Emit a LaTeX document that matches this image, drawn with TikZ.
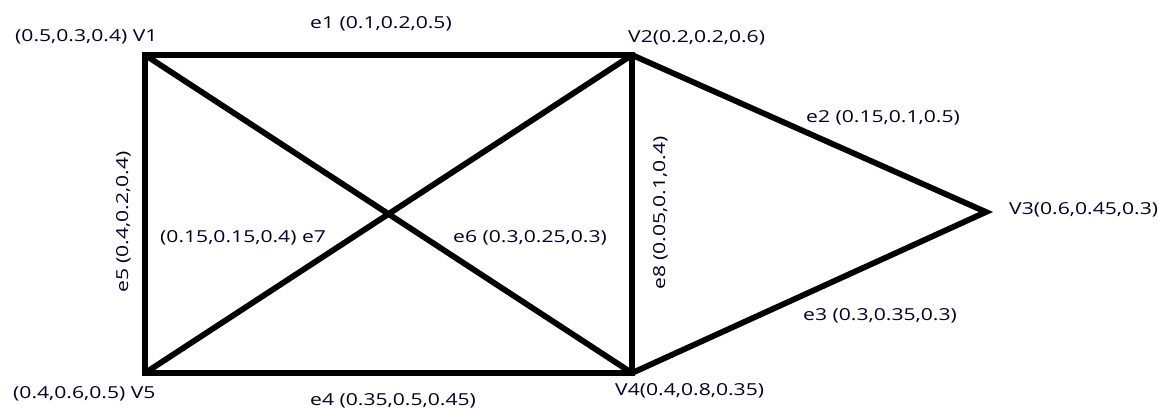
\documentclass[tikz,border=0pt]{standalone}
\usepackage{fontspec}
\setmainfont{Open Sans}
\newfontfamily\lblfont[FakeStretch=1.28]{Open Sans}
\usepackage{tikz}
\usetikzlibrary{positioning}
\colorlet{edgec}{black}
\colorlet{labelc}{black!85!blue}

\begin{document}
\begin{tikzpicture}[x=1pt,y=1pt,
  edgeline/.style={draw=edgec,line width=5.8pt,line join=miter},
  lbl/.style={text=labelc,font=\lblfont\fontsize{16.5}{18}\selectfont,inner sep=0pt}]
\useasboundingbox (0,0) rectangle (1158,407);

\coordinate (v1) at (145,352);
\coordinate (v2) at (632,352);
\coordinate (v3) at (986,195);
\coordinate (v4) at (632,34);
\coordinate (v5) at (145,34);

\draw[edgeline] (v1) -- (v2) -- (v4) -- (v5) -- cycle;
\draw[edgeline] (v2) -- (v3) -- (v4);
\draw[edgeline] (v1) -- (v4);
\draw[edgeline] (v5) -- (v2);

\node[lbl,anchor=base west] (l1) at (15,365) {(0.5,0.3,0.4) V1};
\node[lbl,anchor=base west] (l2) at (628,364) {V2(0.2,0.2,0.6)};
\node[lbl,anchor=base west] (l3) at (1009,192) {V3(0.6,0.45,0.3)};
\node[lbl,anchor=base west] (l4) at (615,12) {V4(0.4,0.8,0.35)};
\node[lbl,anchor=base west] (l5) at (13,9) {(0.4,0.6,0.5) V5};

\node[lbl,anchor=base west] (e1) at (310,378) {e1 (0.1,0.2,0.5)};
\node[lbl,anchor=base west] (e2) at (806,284) {e2 (0.15,0.1,0.5)};
\node[lbl,anchor=base west] (e3) at (803,87) {e3 (0.3,0.35,0.3)};
\node[lbl,anchor=base west] (e4) at (310,2) {e4 (0.35,0.5,0.45)};
\node[lbl,anchor=base,rotate=90] (e5) at (128,185) {e5 (0.4,0.2,0.4)};
\node[lbl,anchor=base west] (e6) at (453,164) {e6 (0.3,0.25,0.3)};
\node[lbl,anchor=base west] (e7) at (160,164) {(0.15,0.15,0.4) e7};
\node[lbl,anchor=base,rotate=90] (e8) at (665,194) {e8 (0.05,0.1,0.4)};
\end{tikzpicture}
\end{document}
